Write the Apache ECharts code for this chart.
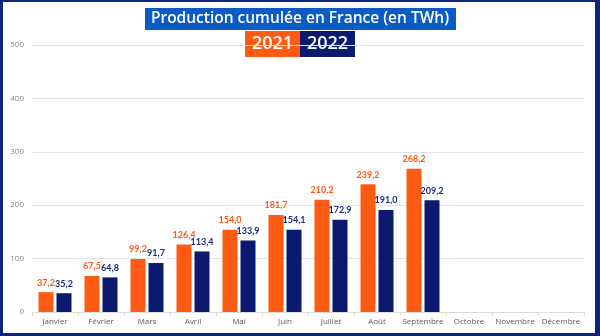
<!DOCTYPE html>
<html><head><meta charset="utf-8">
<script src="https://cdn.jsdelivr.net/npm/echarts@6/dist/echarts.min.js"></script>
<style>
html,body{margin:0;padding:0;background:#fff;}
#wrap{position:relative;width:600px;height:336px;}
#c{width:600px;height:336px;}
#frame{position:absolute;left:0;top:0;width:600px;height:336px;box-sizing:border-box;border-style:solid;border-color:#0c2580;border-width:2px 5px 3px 3px;pointer-events:none;}
</style></head>
<body><div id="wrap"><div id="c"></div><div id="frame"></div></div>
<script>
const months = ['Janvier','Février','Mars','Avril','Mai','Juin','Juillet','Août','Septembre','Octobre','Novembre','Décembre'];
const values2021 = [37.2, 67.5, 99.2, 126.4, 154.0, 181.7, 210.2, 239.2, 268.2, null, null, null];
const values2022 = [35.2, 64.8, 91.7, 113.4, 133.9, 154.1, 172.9, 191.0, 209.2, null, null, null];
const years = ['2021', '2022'];
const titleText = 'Production cumulée en France (en TWh)';
const orange = '#ff5a12';
const navy = '#0b1a6e';
const fmt = p => p.value == null ? '' : p.value.toFixed(1).replace('.', ',');
const chart = echarts.init(document.getElementById('c'));
chart.setOption({
  animation: false,
  backgroundColor: '#fff',
  grid: {left: 32, right: 16, top: 45, bottom: 24, containLabel: false},
  xAxis: {
    type: 'category', data: months,
    axisLine: {lineStyle: {color: '#dcdcdc'}},
    axisTick: {show: true, length: 4, lineStyle: {color: '#dcdcdc'}},
    axisLabel: {interval: 0, color: '#5a5a5a', fontSize: 8, fontFamily: 'Open Sans', margin: 6}
  },
  yAxis: {
    type: 'value', min: 0, max: 500, interval: 100,
    axisLine: {show: false}, axisTick: {show: false},
    splitLine: {lineStyle: {color: '#e3e3e3'}},
    axisLabel: {color: '#8a8a8a', fontSize: 8, fontFamily: 'Open Sans', margin: 8}
  },
  series: [
    {name: years[0], type: 'bar', data: values2021, barWidth: 15, barGap: '20%',
     itemStyle: {color: orange},
     label: {show: true, position: 'top', distance: 5, formatter: fmt, color: orange, fontSize: 9, fontWeight: 'bold', fontFamily: 'Lato'}},
    {name: years[1], type: 'bar', data: values2022, barWidth: 15, barGap: '20%',
     itemStyle: {color: navy},
     label: {show: true, position: 'top', distance: 5, formatter: fmt, color: '#1a2a80', fontSize: 9, fontWeight: 'bold', fontFamily: 'Lato'}}
  ],
  graphic: [
    {type: 'rect', shape: {x: 145, y: 8, width: 311, height: 22}, style: {fill: '#0a5bc4'}},
    {type: 'text', x: 300, y: 19, style: {text: titleText, fill: '#fff', fontSize: 15.5, fontWeight: 600, fontFamily: 'Open Sans', align: 'center', verticalAlign: 'middle'}},
    {type: 'rect', shape: {x: 245, y: 31, width: 55, height: 26}, style: {fill: orange}},
    {type: 'rect', shape: {x: 300, y: 31, width: 55, height: 26}, style: {fill: navy}},
    {type: 'text', x: 272.5, y: 44, style: {text: years[0], fill: '#fff', fontSize: 18, fontWeight: 600, fontFamily: 'Open Sans', align: 'center', verticalAlign: 'middle'}},
    {type: 'text', x: 327.5, y: 44, style: {text: years[1], fill: '#fff', fontSize: 18, fontWeight: 600, fontFamily: 'Open Sans', align: 'center', verticalAlign: 'middle'}}
  ]
});
</script></body></html>
